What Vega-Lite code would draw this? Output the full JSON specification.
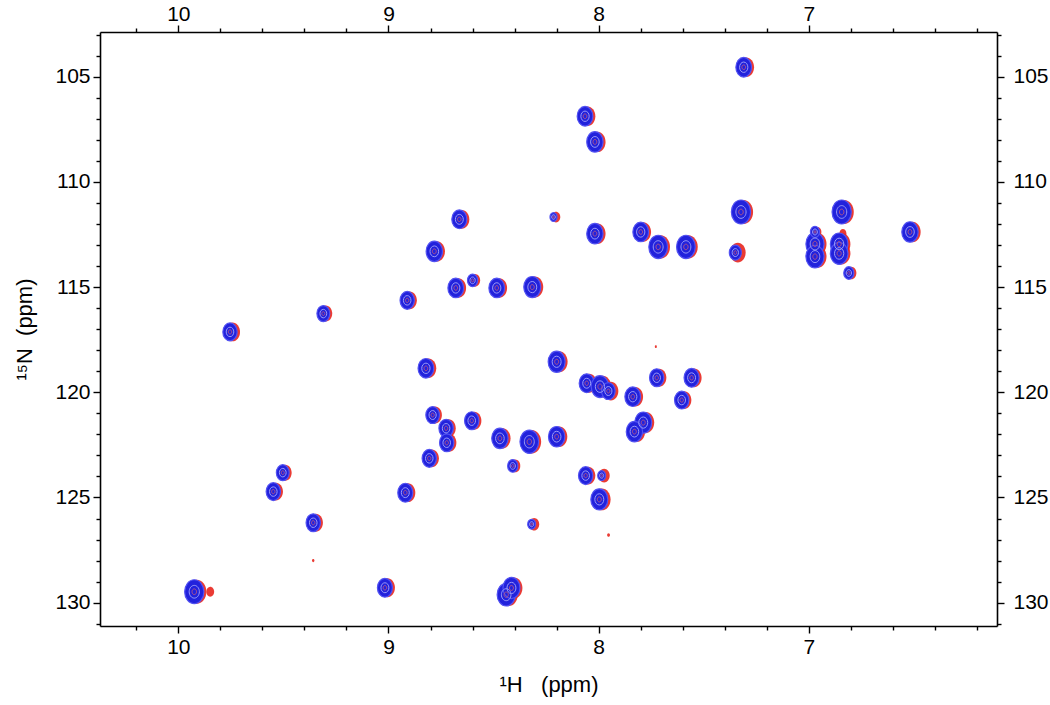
{
  "$schema": "https://vega.github.io/schema/vega-lite/v6.json",
  "width": 897,
  "height": 594,
  "autosize": {"type": "none"},
  "padding": {"left": 100, "top": 32, "right": 53, "bottom": 79},
  "background": "white",
  "config": {
    "view": {"stroke": null},
    "axis": {
      "grid": false,
      "labelFont": "Liberation Sans",
      "labelFontSize": 21,
      "labelColor": "black",
      "titleFont": "Liberation Sans",
      "titleFontSize": 22,
      "titleFontWeight": "normal",
      "titleColor": "black",
      "domainColor": "black",
      "domainWidth": 1.6,
      "tickColor": "black",
      "tickWidth": 1.4
    }
  },
  "data": {
    "values": [
      {"h": 7.31, "n": 104.55, "b": 6, "r": 6},
      {"h": 8.065, "n": 106.88, "b": 6, "r": 6},
      {"h": 8.018, "n": 108.1, "b": 6.5, "r": 6.5},
      {"h": 8.663, "n": 111.78, "b": 5.5, "r": 5.5},
      {"h": 8.215, "n": 111.67, "b": 1.2, "r": 1.8},
      {"h": 8.018, "n": 112.46, "b": 6.5, "r": 6.5},
      {"h": 7.8, "n": 112.38, "b": 6, "r": 6},
      {"h": 7.717, "n": 113.09, "b": 8.5, "r": 8.5},
      {"h": 7.585, "n": 113.09, "b": 8.5, "r": 8.5},
      {"h": 8.782, "n": 113.3, "b": 6.5, "r": 6.5},
      {"h": 8.68, "n": 115.04, "b": 6, "r": 6},
      {"h": 8.6, "n": 114.68, "b": 2.5, "r": 2.5},
      {"h": 8.485, "n": 115.04, "b": 6, "r": 6},
      {"h": 8.316, "n": 115.0, "b": 7, "r": 7},
      {"h": 8.911, "n": 115.63, "b": 5, "r": 5},
      {"h": 9.31, "n": 116.26, "b": 4, "r": 4},
      {"h": 9.754, "n": 117.13, "b": 5, "r": 5.5},
      {"h": 7.323, "n": 111.43, "b": 9, "r": 9},
      {"h": 6.844, "n": 111.43, "b": 9, "r": 9},
      {"h": 6.519, "n": 112.38, "b": 6.5, "r": 6.5},
      {"h": 7.35, "n": 113.36, "b": 3.5, "r": 6},
      {"h": 6.971, "n": 112.95, "b": 8, "r": 8},
      {"h": 6.971, "n": 113.55, "b": 8, "r": 8},
      {"h": 6.971, "n": 112.38, "b": 2, "r": 1.5},
      {"h": 6.856, "n": 112.95, "b": 7.5, "r": 7.5},
      {"h": 6.856, "n": 113.4, "b": 7.5, "r": 7.5},
      {"h": 6.85, "n": 112.45, "b": 0, "r": 1.2},
      {"h": 6.81, "n": 114.33, "b": 2.5, "r": 2.5},
      {"h": 9.503, "n": 123.82, "b": 4, "r": 4},
      {"h": 9.548, "n": 124.72, "b": 5, "r": 5},
      {"h": 9.358, "n": 126.2, "b": 5, "r": 5},
      {"h": 9.37, "n": 128.0, "b": 0, "r": 0.15},
      {"h": 9.924, "n": 129.48, "b": 9, "r": 9},
      {"h": 9.86, "n": 129.48, "b": 0, "r": 1.5},
      {"h": 9.017, "n": 129.29, "b": 5.5, "r": 5.5},
      {"h": 8.92, "n": 124.77, "b": 5.5, "r": 5.5},
      {"h": 8.822, "n": 118.86, "b": 6, "r": 6},
      {"h": 8.2, "n": 118.55, "b": 7, "r": 7},
      {"h": 8.057, "n": 119.57, "b": 5.5, "r": 5.5},
      {"h": 7.994, "n": 119.73, "b": 7.5, "r": 7.5},
      {"h": 7.954, "n": 119.94, "b": 4.5, "r": 5.5},
      {"h": 7.838, "n": 120.21, "b": 6, "r": 6},
      {"h": 7.724, "n": 119.31, "b": 5, "r": 5},
      {"h": 7.558, "n": 119.31, "b": 5.5, "r": 5.5},
      {"h": 7.605, "n": 120.37, "b": 5, "r": 5},
      {"h": 7.788, "n": 121.44, "b": 7, "r": 7},
      {"h": 7.83, "n": 121.87, "b": 6.5, "r": 6.5},
      {"h": 8.79, "n": 121.08, "b": 4.5, "r": 4.5},
      {"h": 8.726, "n": 121.71, "b": 5, "r": 5},
      {"h": 8.723, "n": 122.4, "b": 5, "r": 5},
      {"h": 8.604, "n": 121.35, "b": 5, "r": 5},
      {"h": 8.47, "n": 122.19, "b": 6.5, "r": 6.5},
      {"h": 8.33, "n": 122.35, "b": 8.5, "r": 8.5},
      {"h": 8.2, "n": 122.11, "b": 6.5, "r": 6.5},
      {"h": 8.806, "n": 123.14, "b": 5, "r": 5},
      {"h": 8.409, "n": 123.5, "b": 2.5, "r": 2.5},
      {"h": 8.062, "n": 123.96, "b": 5, "r": 5},
      {"h": 7.986, "n": 123.96, "b": 1.5, "r": 3},
      {"h": 7.997, "n": 125.09, "b": 7, "r": 7.5},
      {"h": 8.319, "n": 126.27, "b": 1.5, "r": 2.5},
      {"h": 7.965, "n": 126.78, "b": 0, "r": 0.2},
      {"h": 7.74, "n": 117.83, "b": 0, "r": 0.1},
      {"h": 8.44, "n": 129.62, "b": 8, "r": 8},
      {"h": 8.415, "n": 129.3, "b": 7, "r": 7}
    ]
  },
  "layer": [
    {
      "mark": {"type": "point", "shape": "M0,-1A0.8,1,0,1,1,0,1A0.8,1,0,1,1,0,-1Z", "filled": true, "color": "#e8261e", "opacity": 0.9, "xOffset": 2.5, "yOffset": 0},
      "encoding": {
        "x": {"field": "h", "type": "quantitative", "scale": {"domain": [6.105, 10.3725], "reverse": true, "nice": false, "zero": false},
          "axis": {"orient": "bottom", "values": [7, 8, 9, 10], "format": "d", "tickSize": 7, "labelPadding": 3, "title": "¹H\u00a0\u00a0\u00a0(ppm)", "titlePadding": 17}},
        "y": {"field": "n", "type": "quantitative", "scale": {"domain": [102.8755, 131.108], "reverse": true, "nice": false, "zero": false},
          "axis": {"orient": "left", "values": [105, 110, 115, 120, 125, 130], "format": "d", "tickSize": 7, "labelPadding": 3, "title": "¹⁵N\u00a0\u00a0(ppm)", "titlePadding": 18}},
        "size": {"field": "r", "type": "quantitative", "scale": {"domain": [0, 10], "range": [0, 640]}, "legend": null}
      }
    },
    {
      "mark": {"type": "point", "shape": "M0,-1A0.8,1,0,1,1,0,1A0.8,1,0,1,1,0,-1Z", "filled": true, "fill": "#2222dc", "stroke": "#5252f2", "strokeWidth": 1.2, "opacity": 1},
      "encoding": {
        "x": {"field": "h", "type": "quantitative", "scale": {"domain": [6.105, 10.3725], "reverse": true, "nice": false, "zero": false},
          "axis": {"orient": "top", "values": [7, 8, 9, 10], "format": "d", "tickSize": 7, "labelPadding": 1, "title": null}},
        "y": {"field": "n", "type": "quantitative", "scale": {"domain": [102.8755, 131.108], "reverse": true, "nice": false, "zero": false},
          "axis": {"orient": "right", "values": [105, 110, 115, 120, 125, 130], "format": "d", "tickSize": 7, "labelPadding": 9, "title": null}},
        "size": {"field": "b", "type": "quantitative", "scale": {"domain": [0, 10], "range": [0, 640]}, "legend": null}
      }
    },
    {
      "mark": {"type": "point", "shape": "M0,-1A0.8,1,0,1,1,0,1A0.8,1,0,1,1,0,-1Z", "filled": false, "stroke": "#9a9af8", "strokeWidth": 1, "opacity": 1},
      "encoding": {
        "x": {"field": "h", "type": "quantitative", "scale": {"domain": [6.105, 10.3725], "reverse": true, "nice": false, "zero": false},
          "axis": {"orient": "bottom", "values": [6.2, 6.4, 6.6, 6.8, 7.2, 7.4, 7.6, 7.8, 8.2, 8.4, 8.6, 8.8, 9.2, 9.4, 9.6, 9.8, 10.2], "labels": false, "domain": false, "tickSize": 4, "title": null}},
        "y": {"field": "n", "type": "quantitative", "scale": {"domain": [102.8755, 131.108], "reverse": true, "nice": false, "zero": false},
          "axis": {"orient": "left", "values": [103, 104, 106, 107, 108, 109, 111, 112, 113, 114, 116, 117, 118, 119, 121, 122, 123, 124, 126, 127, 128, 129, 131], "labels": false, "domain": false, "tickSize": 4, "title": null}},
        "size": {"field": "b", "type": "quantitative", "scale": {"domain": [0, 10], "range": [0, 180]}, "legend": null}
      }
    },
    {
      "mark": {"type": "point", "shape": "M0,-1A0.8,1,0,1,1,0,1A0.8,1,0,1,1,0,-1Z", "filled": false, "stroke": "#c85a7a", "strokeWidth": 0.8, "opacity": 1},
      "encoding": {
        "x": {"field": "h", "type": "quantitative", "scale": {"domain": [6.105, 10.3725], "reverse": true, "nice": false, "zero": false},
          "axis": {"orient": "top", "values": [6.2, 6.4, 6.6, 6.8, 7.2, 7.4, 7.6, 7.8, 8.2, 8.4, 8.6, 8.8, 9.2, 9.4, 9.6, 9.8, 10.2], "labels": false, "domain": false, "tickSize": 4, "title": null}},
        "y": {"field": "n", "type": "quantitative", "scale": {"domain": [102.8755, 131.108], "reverse": true, "nice": false, "zero": false},
          "axis": {"orient": "right", "values": [103, 104, 106, 107, 108, 109, 111, 112, 113, 114, 116, 117, 118, 119, 121, 122, 123, 124, 126, 127, 128, 129, 131], "labels": false, "domain": false, "tickSize": 4, "title": null}},
        "size": {"field": "b", "type": "quantitative", "scale": {"domain": [0, 10], "range": [0, 36]}, "legend": null}
      }
    }
  ],
  "resolve": {"axis": {"x": "independent", "y": "independent"}, "scale": {"size": "independent"}}
}
